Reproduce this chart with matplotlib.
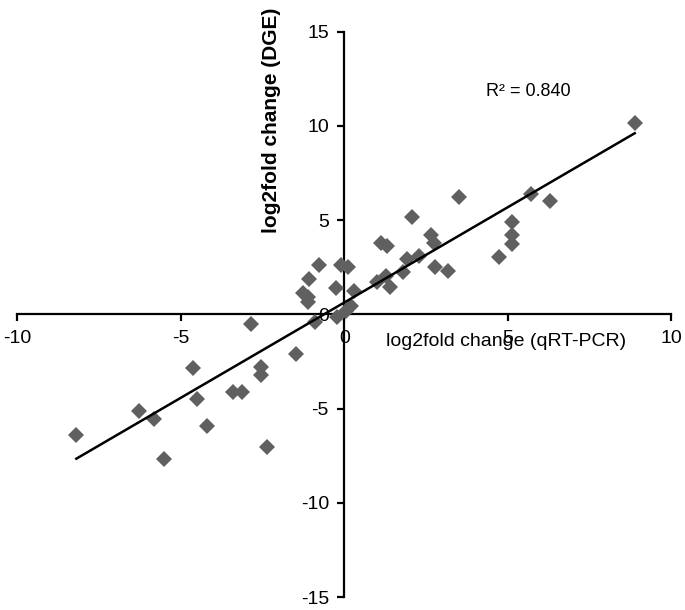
import numpy as np
from matplotlib import pyplot as plt

# log2 fold change: qRT-PCR (x) vs DGE (y)
qpcr = [-2.86, -0.78, -1.08, -1.26, -1.11, -1.11, -0.9, -0.21, -0.24, -0.11,
        0.13, 0.31, 0.21, 0.05, 1.01, 1.13, 1.31, 1.28, 1.40, 1.81,
        1.92, 2.06, 2.30, 2.65, 2.75, 2.78, 3.16, 3.50, 4.74, 5.12,
        5.14, 5.14, 5.70, 6.28, 8.88,
        -1.46, -4.63, -2.53, -2.53, -3.41, -3.11, -4.51, -6.26, -5.83, -4.21,
        -8.19, -5.51, -2.35]
dge = [-0.48, 2.63, 1.89, 1.13, 0.92, 0.65, -0.4, -0.14, 1.39, 2.63,
       2.5, 1.27, 0.44, 0.2, 1.71, 3.77, 3.65, 2.06, 1.48, 2.24,
       2.94, 5.19, 3.12, 4.22, 3.77, 2.5, 2.28, 6.21, 3.07, 4.92,
       4.22, 3.74, 6.39, 6.0, 10.17,
       -2.12, -2.84, -2.79, -3.23, -4.11, -4.11, -4.5, -5.13, -5.52, -5.93,
       -6.37, -7.67, -7.02]
r2_label = "R² = 0.840"
xticks = [-10, -5, 0, 5, 10]
yticks = [-15, -10, -5, 0, 5, 10, 15]

plt.rcParams['axes.unicode_minus'] = False
font = ['Liberation Sans', 'DejaVu Sans']

fig = plt.figure(figsize=(6.85, 6.1), dpi=100)
ax = fig.add_axes([0.025, 0.021, 0.955, 0.927])

x = np.array(qpcr)
y = np.array(dge)
ax.plot(x, y, 'D', color='#606060', markersize=8.5, markeredgewidth=0, zorder=3)

slope, intercept = np.polyfit(x, y, 1)
xs = np.array([x.min(), x.max()])
ax.plot(xs, slope * xs + intercept, color='black', lw=1.8, zorder=4)

ax.set_xlim(-10, 10)
ax.set_ylim(-15, 15)
ax.spines['left'].set_position('zero')
ax.spines['bottom'].set_position('zero')
ax.spines['right'].set_visible(False)
ax.spines['top'].set_visible(False)
for s in ('left', 'bottom'):
    ax.spines[s].set_linewidth(1.6)
ax.set_xticks(xticks)
ax.set_yticks(yticks)
ax.tick_params(direction='out', length=5, width=1.6, labelsize=14, pad=6)
for lab in ax.get_xticklabels() + ax.get_yticklabels():
    lab.set_family(font)

ax.text(-2.23, 10.3, "log2fold change (DGE)", rotation=90, ha='center', va='center',
        fontsize=15, fontweight='bold', family=font)
ax.text(4.95, -1.45, "log2fold change (qRT-PCR)", ha='center', va='center',
        fontsize=14, family=font)
ax.text(5.63, 11.85, r2_label, ha='center', va='center', fontsize=13, family=font)

fig.savefig('out.png', dpi=100)
